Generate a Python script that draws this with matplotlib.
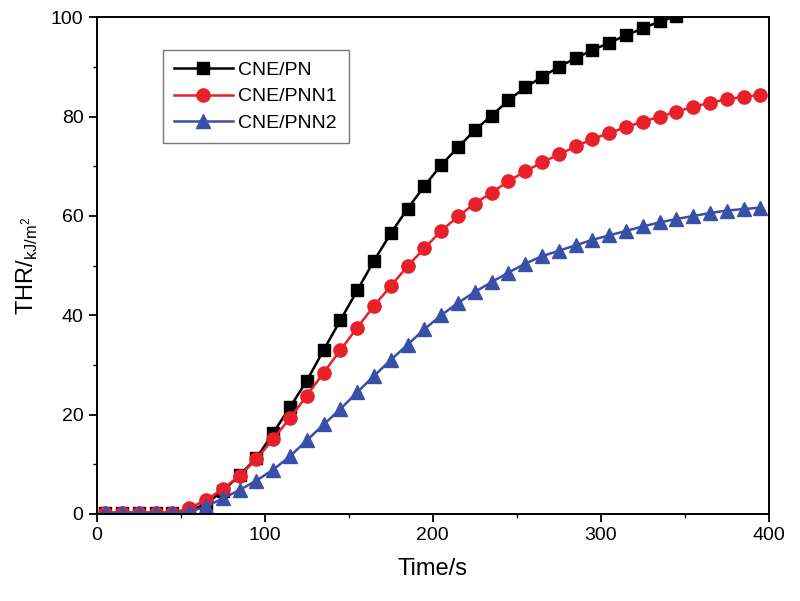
import matplotlib
matplotlib.use("Agg")
import matplotlib.pyplot as plt
import numpy as np
from matplotlib.ticker import MultipleLocator

plt.rcParams['font.family'] = ['Liberation Sans', 'DejaVu Sans']
plt.rcParams['mathtext.fontset'] = 'custom'
plt.rcParams['mathtext.rm'] = 'Liberation Sans'

# time points (s)
time_s = [5, 15, 25, 35, 45, 55, 65, 75, 85, 95, 105, 115, 125, 135, 145, 155,
          165, 175, 185, 195, 205, 215, 225, 235, 245, 255, 265, 275, 285, 295,
          305, 315, 325, 335, 345, 355, 365, 375, 385, 395]

# CNE/PN goes off the top of the plot after ~345 s
thr_pn = [0.2, 0.2, 0.2, 0.2, 0.2, 0.6, 2.0, 4.6, 7.8, 11.2, 16.3, 21.5, 26.8,
          33.0, 39.0, 45.0, 51.0, 56.5, 61.5, 66.0, 70.3, 73.8, 77.3, 80.2,
          83.3, 85.9, 88.0, 90.0, 91.8, 93.4, 94.9, 96.4, 97.8, 99.2, 100.2]

thr_pnn1 = [0.2, 0.2, 0.2, 0.2, 0.2, 1.1, 2.8, 5.0, 7.7, 11.0, 15.1, 19.3, 23.8,
            28.4, 33.0, 37.5, 41.9, 45.9, 49.9, 53.5, 57.0, 59.9, 62.5, 64.7,
            67.0, 69.0, 70.8, 72.4, 74.0, 75.5, 76.7, 77.9, 79.0, 80.0, 81.0,
            82.0, 82.8, 83.5, 84.0, 84.4]

thr_pnn2 = [0.2, 0.2, 0.2, 0.2, 0.2, 0.4, 1.5, 3.1, 4.8, 6.7, 8.9, 11.6, 14.8,
            18.0, 21.1, 24.5, 27.8, 31.0, 34.1, 37.2, 40.0, 42.5, 44.7, 46.7,
            48.6, 50.4, 51.9, 53.0, 54.1, 55.2, 56.1, 57.0, 57.9, 58.7, 59.4,
            60.0, 60.6, 61.1, 61.4, 61.7]

fig = plt.figure(figsize=(8, 6.01), dpi=100)
ax = fig.add_axes([0.121, 0.145, 0.84, 0.826])

ax.plot(time_s[:len(thr_pn)], thr_pn, color='black', marker='s', markersize=8,
        linewidth=1.8, label='CNE/PN')
ax.plot(time_s, thr_pnn1, color='#e8202a', marker='o', markersize=9.5,
        linewidth=1.8, label='CNE/PNN1')
ax.plot(time_s, thr_pnn2, color='#3a4fa8', marker='^', markersize=9.5,
        linewidth=1.8, label='CNE/PNN2')

ax.set_xlim(0, 400)
ax.set_ylim(0, 100)
ax.xaxis.set_major_locator(MultipleLocator(100))
ax.xaxis.set_minor_locator(MultipleLocator(50))
ax.yaxis.set_major_locator(MultipleLocator(20))
ax.yaxis.set_minor_locator(MultipleLocator(10))
ax.tick_params(which='major', direction='out', length=6, width=1.3, labelsize=14)
ax.tick_params(which='minor', direction='out', length=3, width=1.0)
for sp in ax.spines.values():
    sp.set_linewidth(1.4)

ax.set_xlabel('Time/s', fontsize=17, labelpad=10)
ax.set_ylabel(r'THR/$_{\mathregular{kJ/m^2}}$', fontsize=17, labelpad=8)

leg = ax.legend(loc='upper left', bbox_to_anchor=(0.098, 0.935), fontsize=14,
                handlelength=3.0, frameon=True, fancybox=False, borderaxespad=0,
                edgecolor='#555555', borderpad=0.6, labelspacing=0.45,
                handletextpad=0.3)
leg.get_frame().set_linewidth(1.0)

fig.savefig('out.png', dpi=100)
